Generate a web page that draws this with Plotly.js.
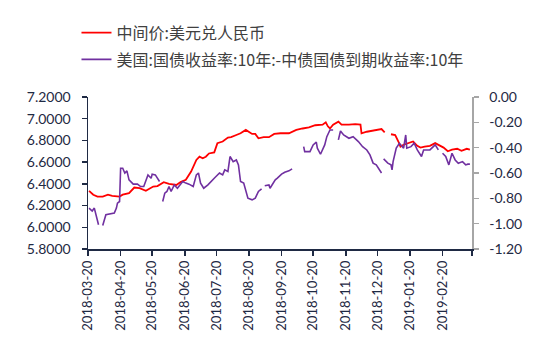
<!DOCTYPE html>
<html>
<head>
<meta charset="utf-8">
<script src="https://cdn.plot.ly/plotly-3.0.1.min.js"></script>
<style>html,body{margin:0;padding:0;background:#fff;}#chart{width:550px;height:357px;}</style>
</head>
<body>
<div id="chart"></div>
<script>
// 中间价:美元兑人民币 (left axis)
const cnyDates = ['2018-03-21','2018-03-25','2018-03-29','2018-04-03','2018-04-08','2018-04-12','2018-04-19','2018-04-22','2018-04-28',
  '2018-05-03','2018-05-08','2018-05-14','2018-05-21','2018-05-25','2018-05-31','2018-06-05','2018-06-12','2018-06-16','2018-06-21','2018-06-26',
  '2018-07-01','2018-07-04','2018-07-07','2018-07-10','2018-07-13','2018-07-18','2018-07-21','2018-07-26','2018-07-31',
  '2018-08-03','2018-08-08','2018-08-12','2018-08-17','2018-08-20','2018-08-23','2018-08-26','2018-08-29',
  '2018-09-03','2018-09-08','2018-09-13','2018-09-19','2018-09-27','2018-10-04','2018-10-10','2018-10-16','2018-10-22','2018-10-29',
  '2018-11-01','2018-11-03','2018-11-05','2018-11-08','2018-11-13','2018-11-16','2018-11-23','2018-11-29','2018-12-04','2018-12-05',
  '2018-12-10','2018-12-15','2018-12-19','2018-12-24','2018-12-27','2018-12-30',
  '2019-01-02','2019-01-06','2019-01-09','2019-01-11','2019-01-14','2019-01-19','2019-01-23','2019-01-27','2019-01-30',
  '2019-02-03','2019-02-08','2019-02-13','2019-02-16','2019-02-21','2019-02-25','2019-03-01','2019-03-06','2019-03-10','2019-03-15','2019-03-18'];
const cnyValues = [6.336,6.300,6.283,6.283,6.300,6.290,6.283,6.300,6.315,
  6.366,6.360,6.336,6.375,6.380,6.416,6.400,6.390,6.416,6.437,6.513,
  6.620,6.650,6.636,6.650,6.680,6.690,6.775,6.790,6.826,
  6.830,6.850,6.866,6.897,6.880,6.860,6.860,6.820,
  6.830,6.830,6.860,6.866,6.866,6.897,6.910,6.920,6.940,6.945,
  6.967,6.930,6.910,6.945,6.973,6.945,6.945,6.950,6.945,6.866,
  6.880,6.890,6.900,6.905,6.875,null,
  6.857,6.850,6.790,6.743,6.760,6.775,6.790,6.750,6.734,
  6.743,6.750,6.775,6.760,6.734,6.700,6.715,6.723,6.705,6.723,6.715];

// 美国:国债收益率:10年:-中债国债到期收益率:10年 (right axis)
const spreadDates = ['2018-03-21','2018-03-24','2018-03-26','2018-03-28','2018-03-30','2018-04-01','2018-04-03','2018-04-06','2018-04-14','2018-04-16',
  '2018-04-17','2018-04-19','2018-04-20','2018-04-22','2018-04-24','2018-04-26','2018-04-28','2018-05-02','2018-05-06','2018-05-09','2018-05-12',
  '2018-05-16','2018-05-19','2018-05-20','2018-05-23','2018-05-27','2018-05-29','2018-05-30','2018-06-01','2018-06-03','2018-06-05','2018-06-07',
  '2018-06-10','2018-06-13','2018-06-18','2018-06-21','2018-06-24','2018-06-28','2018-07-01','2018-07-03','2018-07-05','2018-07-08','2018-07-12',
  '2018-07-18','2018-07-23','2018-07-26','2018-07-28','2018-07-31','2018-08-02','2018-08-05','2018-08-08','2018-08-10','2018-08-12','2018-08-15',
  '2018-08-17','2018-08-19','2018-08-23','2018-08-26','2018-08-29','2018-09-01','2018-09-03','2018-09-04','2018-09-08','2018-09-09','2018-09-14',
  '2018-09-16','2018-09-20','2018-09-23','2018-09-27','2018-09-30','2018-10-05','2018-10-11','2018-10-12','2018-10-17','2018-10-20','2018-10-23',
  '2018-10-24','2018-10-27','2018-10-31','2018-11-02','2018-11-05','2018-11-08','2018-11-10','2018-11-13','2018-11-15','2018-11-18','2018-11-23',
  '2018-11-27','2018-12-02','2018-12-06','2018-12-10','2018-12-13','2018-12-16','2018-12-19','2018-12-23','2018-12-24','2018-12-25','2018-12-26',
  '2018-12-30','2019-01-02','2019-01-03','2019-01-04','2019-01-07','2019-01-10','2019-01-14','2019-01-16','2019-01-17','2019-01-21','2019-01-24',
  '2019-01-27','2019-01-31','2019-02-02','2019-02-08','2019-02-13','2019-02-16','2019-02-18','2019-02-20','2019-02-23','2019-02-26','2019-03-01',
  '2019-03-04','2019-03-07','2019-03-11','2019-03-14','2019-03-16','2019-03-18'];
const spreadValues = [-0.877,-0.900,-0.877,-0.943,-1.009,null,-1.014,-0.930,-0.917,-0.877,
  -0.838,-0.825,-0.562,-0.562,-0.600,-0.583,-0.654,-0.688,-0.688,-0.707,-0.707,
  -0.615,-0.641,-0.609,-0.615,-0.667,null,-0.825,-0.759,-0.746,-0.707,-0.746,
  -0.694,-0.720,-0.667,-0.680,-0.688,-0.707,-0.615,-0.600,-0.680,-0.720,-0.694,
  -0.641,-0.600,-0.615,-0.575,-0.588,-0.470,-0.510,-0.497,-0.536,-0.667,-0.680,
  -0.746,-0.799,-0.812,-0.799,-0.746,-0.725,null,-0.700,-0.694,-0.720,-0.654,
  -0.641,-0.609,-0.594,-0.583,-0.567,null,-0.392,-0.431,-0.431,-0.378,-0.357,
  -0.404,-0.452,-0.378,-0.313,-0.260,-0.260,null,-0.339,-0.268,-0.300,-0.326,
  -0.313,-0.352,-0.392,-0.418,-0.457,-0.522,-0.536,-0.588,-0.600,null,-0.489,
  -0.522,-0.536,-0.575,-0.510,-0.404,-0.365,-0.404,-0.300,-0.404,-0.392,-0.365,
  -0.418,-0.470,-0.418,-0.418,-0.378,-0.418,null,-0.444,-0.470,-0.536,-0.444,
  -0.497,-0.523,-0.510,-0.536,-0.530,-0.530];

const xTickVals = ['2018-03-20','2018-04-20','2018-05-20','2018-06-20','2018-07-20','2018-08-20','2018-09-20',
  '2018-10-20','2018-11-20','2018-12-20','2019-01-20','2019-02-20','2019-03-20'];
const xTickText = ['2018-03-20','2018-04-20','2018-05-20','2018-06-20','2018-07-20','2018-08-20','2018-09-20',
  '2018-10-20','2018-11-20','2018-12-20','2019-01-20','2019-02-20',''];
const leftTickVals = [5.8,6.0,6.2,6.4,6.6,6.8,7.0,7.2];
const leftTickText = ['5.8000','6.0000','6.2000','6.4000','6.6000','6.8000','7.0000','7.2000'];
const rightTickVals = [-1.2,-1.0,-0.8,-0.6,-0.4,-0.2,0];
const rightTickText = ['-1.20','-1.00','-0.80','-0.60','-0.40','-0.20','0.00'];

const labelColor = '#1f2a44';
const tickFont = {family: 'Lato, "Liberation Sans", sans-serif', size: 14, color: labelColor};

const traces = [
  {x: cnyDates, y: cnyValues, name: '中间价:美元兑人民币', type: 'scatter', mode: 'lines',
   line: {color: '#ff0000', width: 1.8}, connectgaps: false, legendgroup: 'a', yaxis: 'y'},
  {x: spreadDates, y: spreadValues, name: '美国:国债收益率:10年:-中债国债到期收益率:10年', type: 'scatter', mode: 'lines',
   line: {color: '#7030a0', width: 1.6}, connectgaps: false, legendgroup: 'b', yaxis: 'y2'}
];

const layout = {
  width: 550, height: 357,
  margin: {l: 88, r: 78, t: 97, b: 108, pad: 0},
  paper_bgcolor: '#ffffff', plot_bgcolor: '#ffffff',
  showlegend: true,
  legend: {x: -0.03, xanchor: 'left', y: 1.535, yanchor: 'top', traceorder: 'grouped', tracegroupgap: 3,
    font: {family: '"Noto Sans CJK SC", sans-serif', size: 16, color: '#404040'}, bgcolor: 'rgba(0,0,0,0)'},
  xaxis: {type: 'date', range: ['2018-03-20', '2019-03-20'], tickvals: xTickVals, ticktext: xTickText,
    tickangle: -90, tickfont: {family: 'Lato, "Liberation Sans", sans-serif', size: 13, color: labelColor},
    showgrid: false, zeroline: false, showline: true, linecolor: '#1f2a44', linewidth: 1.5,
    ticks: 'outside', ticklen: 5, tickcolor: '#1f2a44', tickwidth: 1.5},
  yaxis: {range: [5.8, 7.2], tickvals: leftTickVals, ticktext: leftTickText, tickfont: tickFont,
    showgrid: false, zeroline: false, showline: true, linecolor: '#1f2a44', linewidth: 1.5,
    ticks: 'outside', ticklen: 5, tickcolor: '#1f2a44', tickwidth: 1.5, ticklabelstandoff: 8},
  yaxis2: {range: [-1.2, 0], tickvals: rightTickVals, ticktext: rightTickText, tickfont: tickFont,
    overlaying: 'y', side: 'right', anchor: 'x',
    showgrid: false, zeroline: false, showline: true, linecolor: '#a6a6a6', linewidth: 1.5,
    ticks: 'outside', ticklen: 5, tickcolor: '#a6a6a6', tickwidth: 1.5, ticklabelstandoff: 8}
};

Plotly.newPlot('chart', traces, layout, {staticPlot: true, displayModeBar: false});
</script>
</body>
</html>
